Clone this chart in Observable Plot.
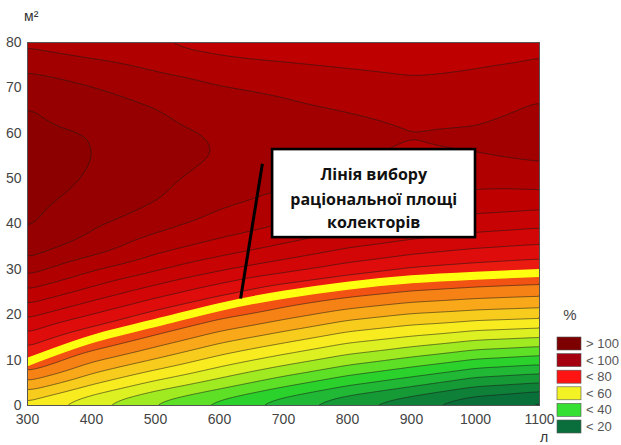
<!DOCTYPE html>
<html>
<head>
<meta charset="utf-8">
<script src="https://cdn.jsdelivr.net/npm/d3@7"></script>
<script src="https://cdn.jsdelivr.net/npm/@observablehq/plot@0.6"></script>
<style>
  body { margin: 0; background: #fff; }
  svg { display: block; }
</style>
</head>
<body>
<div id="chart"></div>
<script>
// ---- data ----
// sample grid: volume of the tank (л) × collector area (м²) → share, %
const xs = [300, 400, 500, 600, 700, 800, 900, 1000, 1100];
const ys = [0, 5, 10, 15, 20, 25, 30, 35, 40, 45, 50, 55, 60, 65, 70, 75, 80];
const col300  = [57, 69.2, 80.5, 88.4, 96.3, 104.1, 111.9, 118, 120.6, 121.6, 122.6, 122.8, 121.4, 120.4, 117.8, 113.7, 108.5];
const col400  = [50, 61, 71, 80.7, 90, 98.3, 105.7, 112.9, 116, 118, 119.5, 120.1, 119.8, 117.6, 115.3, 111.5, 106.5];
const col500  = [43, 54, 64.5, 74, 83.2, 92.5, 100.7, 107.2, 111.9, 115.2, 116.3, 117, 116.5, 115.3, 112.5, 109.1, 104.8];
const col600  = [37, 48, 58, 67.5, 76.8, 86.7, 95.8, 103.1, 108.2, 111, 112.8, 114.8, 114.5, 112.5, 110.4, 107.1, 102.5];
const col700  = [31, 42, 52.5, 62.5, 72, 81.1, 91.7, 99.3, 105, 108.8, 111.1, 112.7, 112.5, 111.2, 109.1, 105.9, 100.6];
const col800  = [25, 36.5, 47.5, 57.5, 67.5, 77.3, 87.7, 95.6, 101.5, 106, 109.3, 111.1, 111.2, 110, 107.4, 104.8, 99.5];
const col900  = [20, 32, 43.5, 54.5, 64.5, 74.5, 84.4, 92.9, 99.4, 104.1, 106.9, 109.3, 110.3, 108.6, 106.5, 103.7, 99.3];
const col1000 = [15, 27, 39.5, 51.5, 63, 72.8, 82.7, 90.7, 97.5, 103, 106.9, 110, 110.6, 108.9, 106.9, 104.8, 99.8];
const col1100 = [12, 25, 37.5, 50, 62, 71.8, 81.4, 89.3, 96.3, 102.2, 107.8, 110.8, 112, 110.7, 108.9, 106.3, 102.5];
const columns = [col300, col400, col500, col600, col700, col800, col900, col1000, col1100];

// contour levels, %
const levels = [10, 15, 20, 25, 30, 35, 40, 45, 50, 55, 60, 65, 70, 75, 80, 85, 90, 95, 100, 105, 110, 115, 120];

// line of rational collector area (yellow)
const rationalX = [300, 400, 500, 600, 700, 800, 900, 1000, 1100];
const rationalY = [9.6, 14.6, 18.2, 21.7, 24.4, 26.4, 27.8, 28.6, 29.2];

// annotation (data coordinates)
const noteLines = ["Лінія вибору", "раціональної площі", "колекторів"];
const noteBox = {x1: 683, x2: 1000, y1: 37, y2: 56.4};
const noteTextX = 841;
const noteTextY = [50.9, 45.3, 40.2];
const pointer = {x1: 667, y1: 53.3, x2: 633, y2: 23.6};

// axes and legend texts
const xTicks = [300, 400, 500, 600, 700, 800, 900, 1000, 1100];
const yTicks = [0, 10, 20, 30, 40, 50, 60, 70, 80];
const legendLabels = ["> 100", "< 100", "< 80", "< 60", "< 40", "< 20"];

// ---- styles ----
const bandColors = [
  "#066638", "#0a7039", "#0e8038", "#159a36", "#20b834", "#2cd22c", "#5ee026", "#a0ea22",
  "#dcf022", "#f8ec20", "#f8cc1c", "#f8a818", "#f68216", "#f25212", "#ea1a10", "#de0c0a",
  "#d20606", "#c80303", "#be0000", "#b00000", "#a20000", "#960000", "#8c0000"
];
const legendColors = ["#7c0000", "#a40010", "#ff1414", "#f2f224", "#36e032", "#0a6e3c"];

const grid = [];
xs.forEach((x, i) => ys.forEach((y, j) => grid.push({x, y, v: columns[i][j]})));

const chart = Plot.plot({
  width: 621,
  height: 445,
  marginLeft: 27,
  marginRight: 82,
  marginTop: 42,
  marginBottom: 40,
  x: {domain: [300, 1100]},
  y: {domain: [0, 80]},
  color: {type: "ordinal", domain: levels, range: bandColors},
  style: {fontFamily: "'Liberation Sans', Arial, sans-serif", fontSize: "14px", color: "#444", background: "#fff"},
  marks: [
    Plot.contour(grid, {
      x: "x", y: "y", fill: "v",
      interpolate: "barycentric",
      thresholds: levels,
      pixelSize: 2,
      blur: 3,
      stroke: "#1a1a1a",
      strokeWidth: 0.7,
      strokeOpacity: 0.8
    }),
    Plot.line(rationalX.map((x, i) => ({x, y: rationalY[i]})), {
      x: "x", y: "y", stroke: "#ffff10", strokeWidth: 8, curve: "natural", clip: true
    }),
    Plot.frame({stroke: "#555", strokeWidth: 1}),
    Plot.axisX({ticks: xTicks, tickFormat: d => String(d), tickSize: 0, tickPadding: 9, fontSize: 14, label: null}),
    Plot.axisY({ticks: yTicks, tickFormat: d => String(d), tickSize: 0, tickPadding: 6, fontSize: 14, label: null}),
    Plot.link([pointer], {x1: "x1", y1: "y1", x2: "x2", y2: "y2", stroke: "#000", strokeWidth: 3}),
    Plot.rect([noteBox], {x1: "x1", x2: "x2", y1: "y1", y2: "y2", fill: "#fff", stroke: "#000", strokeWidth: 2.6}),
    Plot.text(noteLines, {
      x: () => noteTextX, y: (d, i) => noteTextY[i], text: d => d,
      fontSize: 16, fontWeight: "bold", fontFamily: "'Open Sans', 'Noto Sans', sans-serif", fill: "#111"
    })
  ]
});

const svg = d3.select(chart);
const font = "'Liberation Sans', Arial, sans-serif";
// unit labels
svg.append("text").attr("x", 24).attr("y", 21).attr("text-anchor", "start")
  .attr("font-family", font).attr("font-size", 14).attr("fill", "#333")
  .text("м²");
svg.append("text").attr("x", 540).attr("y", 442).attr("text-anchor", "start")
  .attr("font-family", font).attr("font-size", 14).attr("fill", "#333")
  .text("л");
svg.append("text").attr("x", 570).attr("y", 320).attr("text-anchor", "middle")
  .attr("font-family", font).attr("font-size", 15).attr("fill", "#444")
  .text("%");
// legend
const lg = svg.append("g").attr("text-anchor", "start");
legendLabels.forEach((label, i) => {
  const top = 337 + i * 16.6;
  lg.append("rect").attr("x", 557).attr("y", top).attr("width", 24).attr("height", 13)
    .attr("fill", legendColors[i]).attr("stroke", "#555").attr("stroke-width", 0.6);
  lg.append("text").attr("x", 586).attr("y", top + 11)
    .attr("font-family", font).attr("font-size", 13).attr("fill", "#555")
    .text(label);
});

document.getElementById("chart").appendChild(chart);
</script>
</body>
</html>
